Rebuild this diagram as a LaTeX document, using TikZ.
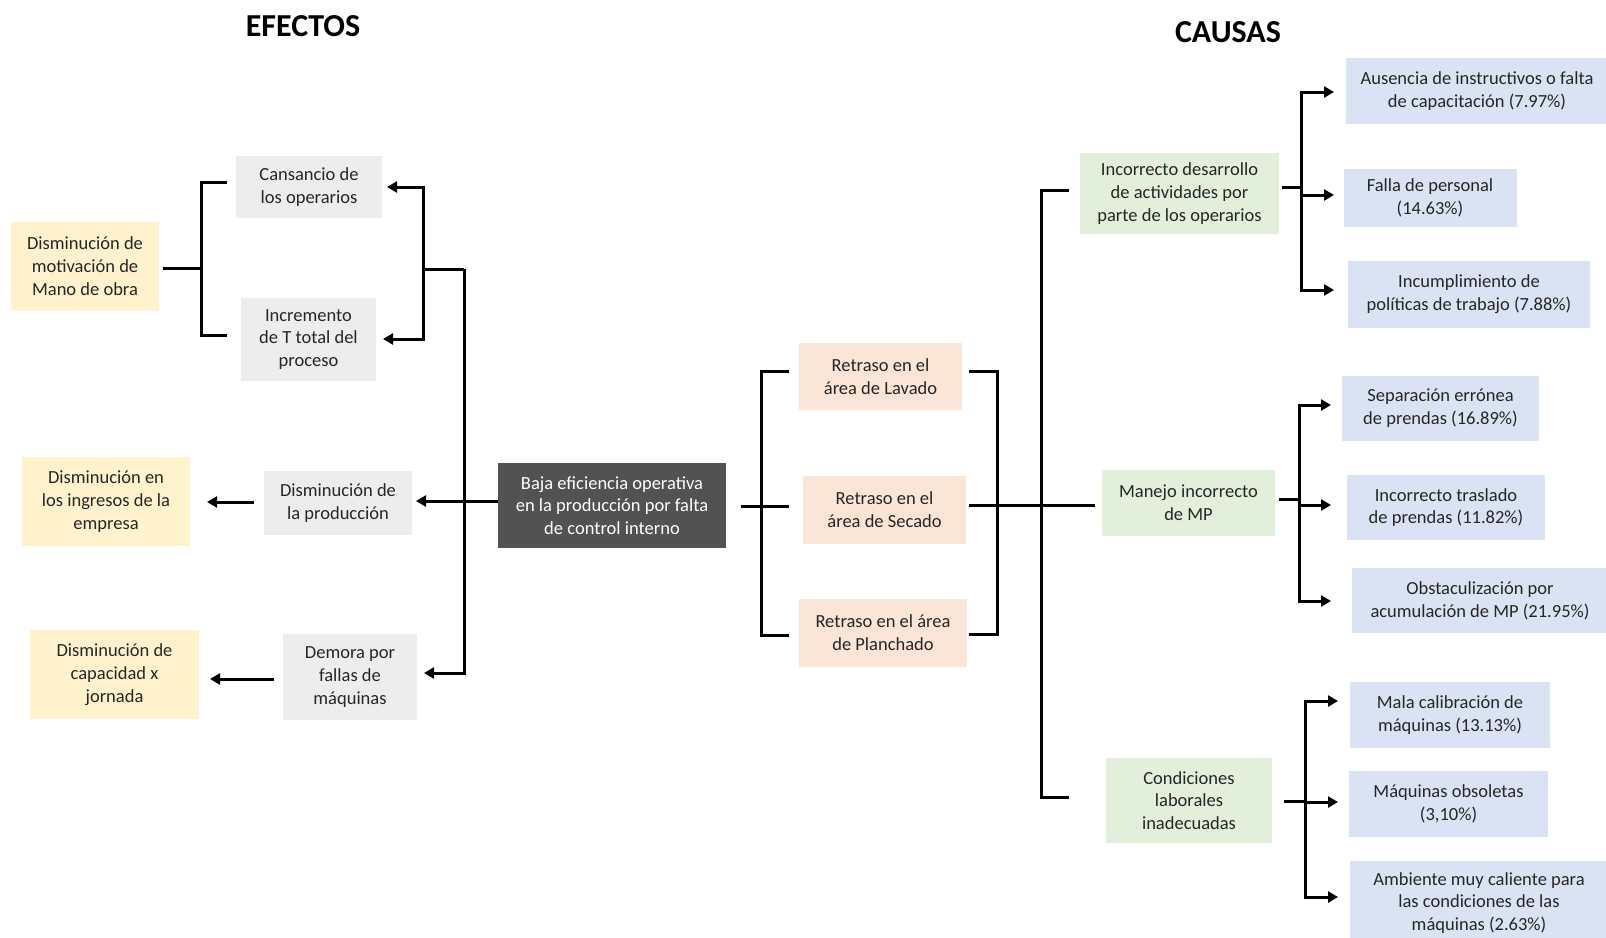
\documentclass[tikz,border=0pt]{standalone}
\usepackage{fontspec}
\setmainfont{Carlito}
\usetikzlibrary{arrows.meta}
\definecolor{cYellow}{HTML}{FFF2CC}
\definecolor{cGray}{HTML}{EDEDED}
\definecolor{cDark}{HTML}{525252}
\definecolor{cPeach}{HTML}{FBE5D6}
\definecolor{cGreen}{HTML}{E2EFDA}
\definecolor{cBlue}{HTML}{DAE3F3}
\definecolor{cText}{HTML}{262626}
\tikzset{
  bx/.style={inner sep=0pt, align=center, text=cText,
    font=\fontsize{18.5}{22.8}\selectfont},
  eff/.style={bx, fill=cYellow},
  mid/.style={bx, fill=cGray},
  core/.style={bx, fill=cDark, text=white},
  area/.style={bx, fill=cPeach},
  cause/.style={bx, fill=cGreen},
  sub/.style={bx, fill=cBlue},
  ttl/.style={font=\bfseries\fontsize{32}{37}\selectfont, text=black},
  ln/.style={line width=3pt, black},
  arr/.style={ln, -{Triangle[length=10pt,width=11pt]}},
  sz/.style 2 args={minimum width=#1pt, minimum height=#2pt}
}
\begin{document}
\begin{tikzpicture}[x=1pt,y=-1pt]
\fill[white] (0,0) rectangle (1606,937);
\useasboundingbox (0,0) rectangle (1606,937);

% headings
\node[ttl] (tEf) at (303,26) {EFECTOS};
\node[ttl] (tCa) at (1228,32) {CAUSAS};

% effects
\node[eff, sz={148}{89}] (mano) at (85,266) {Disminución de\\motivación de\\Mano de obra};
\node[mid, sz={146}{62}] (cans) at (309,187) {Cansancio de\\los operarios};
\node[mid, sz={135}{83}] (incr) at (308.5,339.5) {Incremento\\de T total del\\proceso};
\node[eff, sz={168}{89}] (ingr) at (106,501.5) {Disminución en\\los ingresos de la\\empresa};
\node[mid, sz={148}{64}] (prod) at (338,503) {Disminución de\\la producción};
\node[eff, sz={169}{89}] (capa) at (114.5,674.5) {Disminución de\\capacidad x\\jornada};
\node[mid, sz={134}{86}] (demo) at (350,677) {Demora por\\fallas de\\máquinas};

% central problem
\node[core, sz={228}{85}] (cent) at (612,505.5) {Baja eficiencia operativa\\en la producción por falta\\de control interno};

% areas
\node[area, sz={163}{67}] (lav) at (880.5,376.5) {Retraso en el\\área de Lavado};
\node[area, sz={163}{68}] (sec) at (884.5,510) {Retraso en el\\área de Secado};
\node[area, sz={168}{68}] (pla) at (883,633) {Retraso en el área\\de Planchado};

% causes
\node[cause, sz={199}{81}] (des) at (1179.5,193.5) {Incorrecto desarrollo\\de actividades por\\parte de los operarios};
\node[cause, sz={173}{66}] (man) at (1188.5,503) {Manejo incorrecto\\de MP};
\node[cause, sz={166}{85}] (con) at (1189,800.5) {Condiciones\\laborales\\inadecuadas};

% sub-causes
\node[sub, sz={262}{66}] (aus) at (1477,91) {Ausencia de instructivos o falta\\de capacitación (7.97\%)};
\node[sub, sz={173}{58}] (fal) at (1430,198) {Falla de personal\\(14.63\%)};
\node[sub, sz={242}{67}] (incu) at (1469,294.5) {Incumplimiento de\\políticas de trabajo (7.88\%)};
\node[sub, sz={197}{65}] (sep) at (1440.5,408.5) {Separación errónea\\de prendas (16.89\%)};
\node[sub, sz={198}{65}] (tra) at (1446,507.5) {Incorrecto traslado\\de prendas (11.82\%)};
\node[sub, sz={256}{65}] (obs) at (1480,600.5) {Obstaculización por\\acumulación de MP (21.95\%)};
\node[sub, sz={200}{66}] (mal) at (1450,715) {Mala calibración de\\máquinas (13.13\%)};
\node[sub, sz={199}{66}] (maq) at (1448.5,804) {Máquinas obsoletas\\(3,10\%)};
\node[sub, sz={258}{84}] (amb) at (1479,903) {Ambiente muy caliente para\\las condiciones de las\\máquinas (2.63\%)};

% ---- junction points ----
\coordinate (mB) at (201,268);
\coordinate (eB) at (423,269);
\coordinate (eV) at (464,269);

% left bracket grouping the two causes of low motivation
\draw[ln] (mano.east) ++(4,2) -- (mB);
\draw[ln] (227,182) -| (mB) |- (227,335);

% arrows from the central problem to its effects
\draw[arr] (eB) |- (387,187);
\draw[arr] (eB) |- (383,339);
\draw[ln] (eB) -- (eV);
\draw[arr] (eV) |- (424,673);
\draw[arr] (cent.west |- 0,501) -- (416,501);
\draw[arr] (prod.west) ++(-10,-1) -- (207,502);
\draw[arr] (demo.west) ++(-9,2) -- (210,679);

% areas bracket (left)
\coordinate (aL) at (761,506);
\draw[ln] (789,371) -| (aL) |- (789,635);
\draw[ln] (741,506) -- (789,506);

% areas bracket (right) and causes trunk
\coordinate (aR) at (997,505);
\coordinate (cT) at (1041,505);
\draw[ln] (969,371) -| (aR) |- (969,634);
\draw[ln] (969,505) -- (1095,505);
\draw[ln] (1069,190) -| (cT) |- (1069,797);

% group 1
\coordinate (g1) at (1301,187);
\draw[ln] (1282,187) -- (g1);
\draw[arr] (g1) |- (1334,92);
\draw[arr] (1301,195) -- (1334,195);
\draw[arr] (g1) |- (1334,290);

% group 2
\coordinate (g2) at (1299,499);
\draw[ln] (1279,499) -- (g2);
\draw[arr] (g2) |- (1331,405);
\draw[arr] (1299,505) -- (1331,505);
\draw[arr] (g2) |- (1331,601);

% group 3
\coordinate (g3) at (1305,801);
\draw[ln] (1284,801) -- (g3);
\draw[arr] (g3) |- (1338,701);
\draw[arr] (1305,802) -- (1338,802);
\draw[arr] (g3) |- (1338,897);
\end{tikzpicture}
\end{document}
